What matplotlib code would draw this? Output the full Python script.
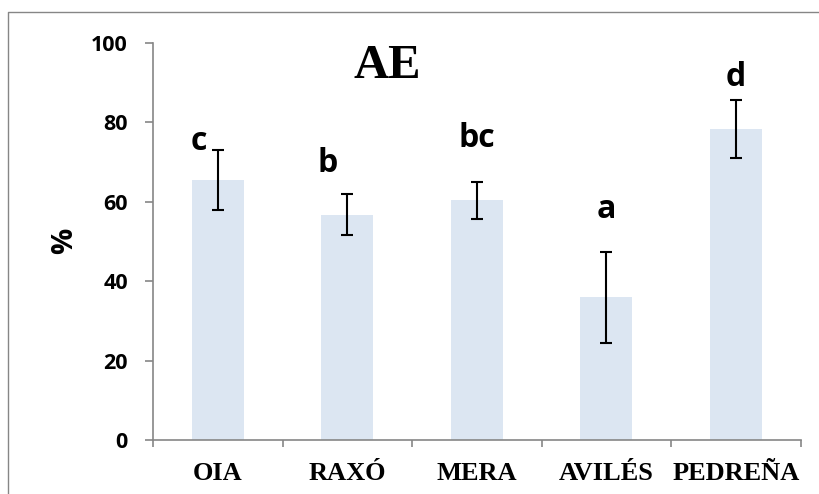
import matplotlib.pyplot as plt
from matplotlib.lines import Line2D

# site data: mean percentage, error and significance group
sites = ['OIA', 'RAXÓ', 'MERA', 'AVILÉS', 'PEDREÑA']
means = [65.4, 56.7, 60.3, 35.9, 78.3]
errors = [7.5, 5.2, 4.6, 11.5, 7.2]
groups = ['c', 'b', 'bc', 'a', 'd']

W, H = 819, 494
fig = plt.figure(figsize=(W / 100, H / 100), dpi=100)
ax = fig.add_axes([153 / W, 1 - 440 / H, (800.7 - 153) / W, (440 - 42.7) / H])

x = list(range(len(sites)))
ax.bar(x, means, width=0.4, color='#DCE6F2', zorder=1)
ax.errorbar(x, means, yerr=errors, fmt='none', ecolor='black',
            elinewidth=1.5, capsize=4, capthick=1.5, zorder=2)

# group letters above each bar
letter_xy = [(-0.15, 73.0), (-0.15, 67.5), (0, 73.8), (0, 55.8), (0, 89.1)]
for xi, g, (dx, yb) in zip(x, groups, letter_xy):
    ax.text(xi + dx, yb, g, ha='center', va='baseline', fontsize=23,
            fontweight='bold', family='Open Sans')

ax.set_xlim(-0.5, len(sites) - 0.5)
ax.set_ylim(0, 100)
ax.set_yticks(range(0, 101, 20))
ax.set_xticks(x)
ax.set_xticklabels(sites, family='Liberation Serif', fontweight='bold', fontsize=19)
ax.set_xticks([i - 0.5 for i in range(len(sites) + 1)], minor=True)
ax.tick_params(axis='x', which='major', length=0, pad=16)
ax.tick_params(axis='x', which='minor', length=5, width=1.2, color='#868686', direction='out')
ax.tick_params(axis='y', length=5.5, width=1.2, color='#868686', pad=12.5)
for lab in ax.get_yticklabels():
    lab.set_family('Open Sans')
    lab.set_fontweight('bold')
    lab.set_fontsize(15.5)

for s in ['top', 'right']:
    ax.spines[s].set_visible(False)
for s in ['left', 'bottom']:
    ax.spines[s].set_color('#868686')
    ax.spines[s].set_linewidth(1.2)

ax.set_ylabel('%', family='Open Sans', fontweight='bold', fontsize=21, labelpad=9)
ax.text(1.31, 91, 'AE', ha='center', va='baseline', family='Liberation Serif',
        fontweight='bold', fontsize=35)

# outer chart border
fig.add_artist(Line2D([8 / W, 8 / W, 1], [0, 1 - 12 / H, 1 - 12 / H],
                      transform=fig.transFigure, color='#868686', lw=1))

fig.savefig('out.png', dpi=100)
